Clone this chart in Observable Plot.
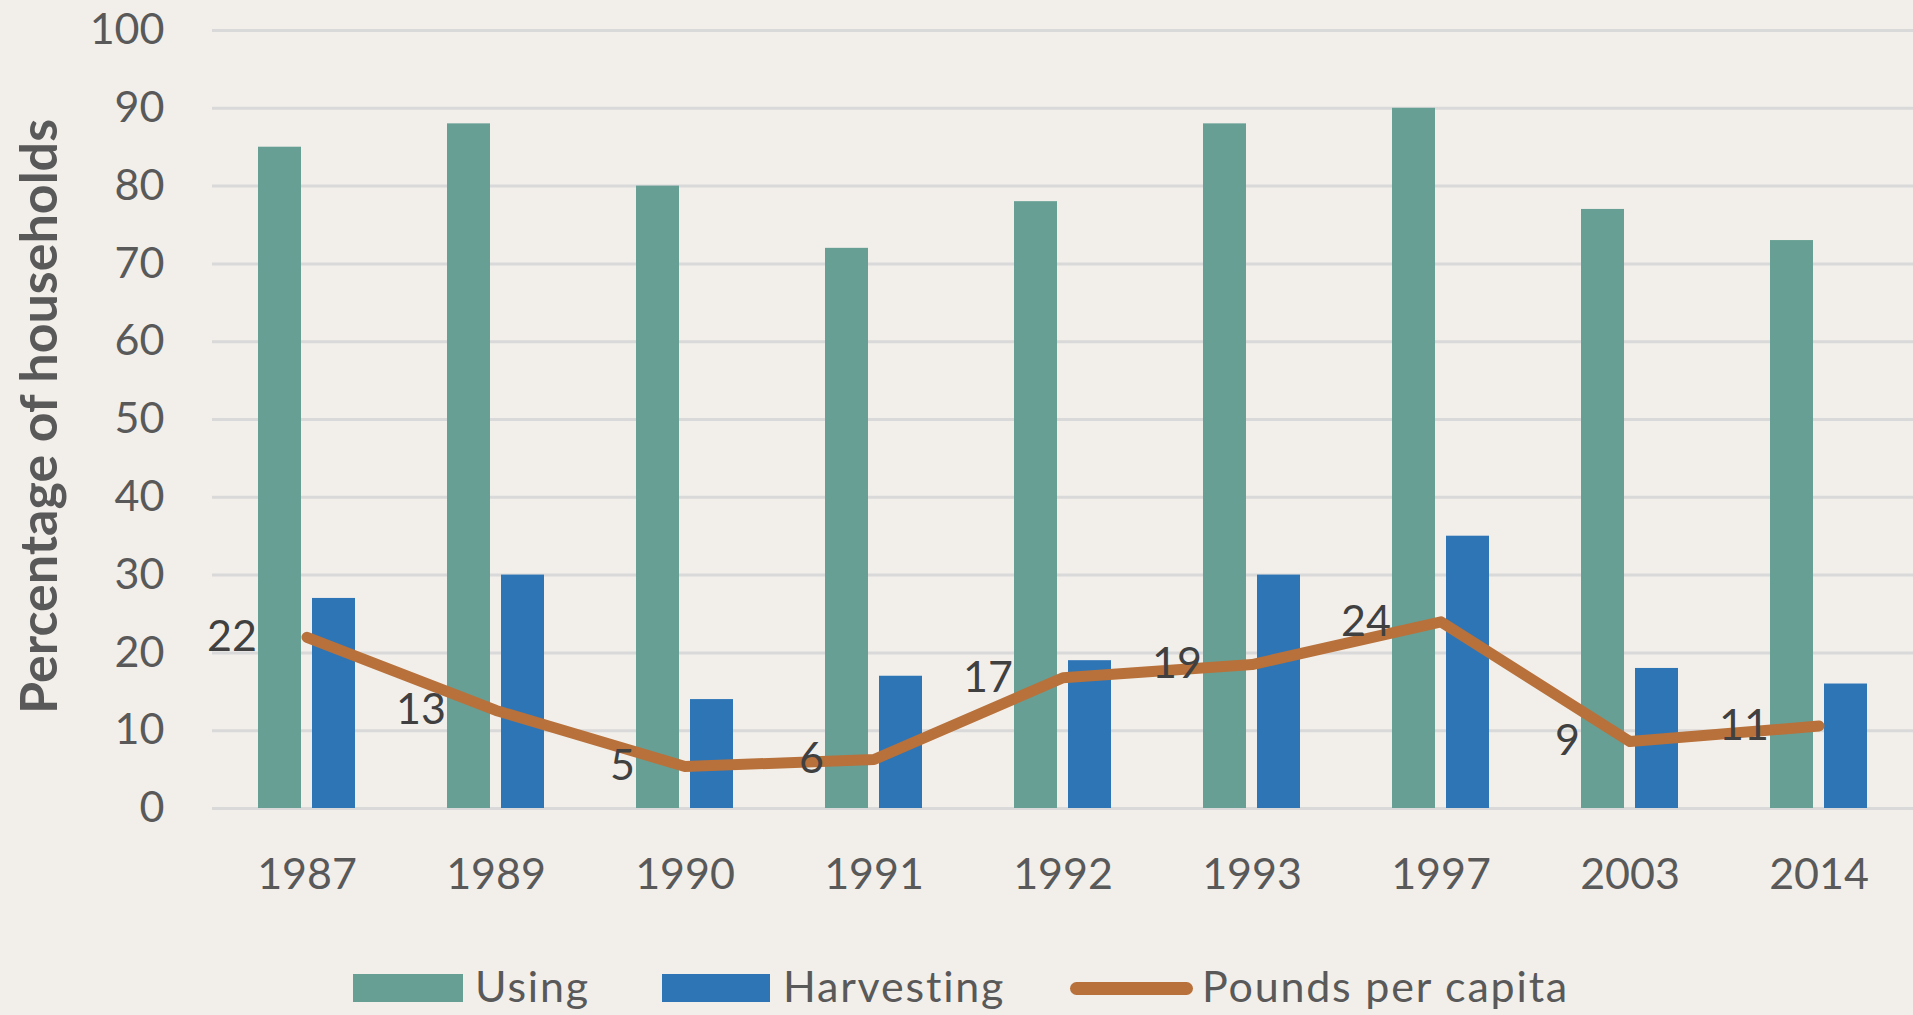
<!DOCTYPE html>
<html>
<head>
<meta charset="utf-8">
<script src="https://cdn.jsdelivr.net/npm/d3@7"></script>
<script src="https://cdn.jsdelivr.net/npm/@observablehq/plot@0.6"></script>
<style>
  html, body { margin: 0; padding: 0; background: #F2EFEB; overflow: hidden; }
  #chart svg { display: block; }
  #legend { position: relative; height: 55px; font-family: Lato, "Open Sans", sans-serif; font-size: 43px; color: #595959; }
  #legend .sw { position: absolute; }
  #legend .lt { position: absolute; top: -2px; line-height: 55px; white-space: nowrap; letter-spacing: 1.8px; }
</style>
</head>
<body>
<div id="chart"></div>
<div id="legend"></div>
<script>
// ---- data ----
const years = ["1987", "1989", "1990", "1991", "1992", "1993", "1997", "2003", "2014"];
const using = [85, 88, 80, 72, 78, 88, 90, 77, 73];
const harvesting = [27, 30, 14, 17, 19, 30, 35, 18, 16];
const poundsPerCapita = [22, 12.6, 5.4, 6.3, 16.8, 18.5, 24, 8.6, 10.6];
const yTicks = [0, 10, 20, 30, 40, 50, 60, 70, 80, 90, 100];
const seriesNames = ["Using", "Harvesting", "Pounds per capita"];
const yTitle = "Percentage of households";

// ---- styles ----
const colors = ["#679F95", "#2E75B6", "#B8713A"];

const rows = years.map((y, i) => ({
  year: y, using: using[i], harvesting: harvesting[i], pounds: poundsPerCapita[i]
}));

const chart = Plot.plot({
  width: 1913,
  height: 960,
  marginLeft: 212,
  marginRight: 0,
  marginTop: 30,
  marginBottom: 152,
  style: { background: "transparent", fontFamily: "Lato, 'Open Sans', sans-serif", fontSize: "43px", color: "#595959", overflow: "visible" },
  x: { type: "band", domain: years, padding: 0, label: null },
  y: { domain: [0, 100], label: null },
  marks: [
    Plot.ruleY(yTicks, { stroke: "#D9D9D9", strokeWidth: 3 }),
    Plot.barY(rows, { x: "year", y: "using", fill: colors[0], insetLeft: 73, insetRight: 73, dx: -27 }),
    Plot.barY(rows, { x: "year", y: "harvesting", fill: colors[1], insetLeft: 73, insetRight: 73, dx: 27 }),
    Plot.line(rows, { x: "year", y: "pounds", stroke: colors[2], strokeWidth: 11, strokeLinecap: "round", strokeLinejoin: "round" }),
    Plot.text(rows, { x: "year", y: "pounds", text: d => String(Math.round(d.pounds)), textAnchor: "end", dx: -50, fill: "#404040", fontSize: 43 }),
    Plot.axisX({ tickSize: 0, tickPadding: 50, fill: "#595959", fontSize: 43, label: null }),
    Plot.axisY({ ticks: yTicks, tickSize: 0, tickPadding: 48, fill: "#595959", fontSize: 43, label: null }),
    Plot.text([yTitle], { text: d => d, frameAnchor: "left", textAnchor: "middle", rotate: -90, dx: -172, dy: -3, fontWeight: "bold", fontSize: 52, fill: "#595959" })
  ]
});
document.getElementById("chart").appendChild(chart);

// ---- legend ----
const legend = document.getElementById("legend");
const legendLayout = [
  { sw: { left: 353, top: 14, width: 110, height: 28, radius: 0 }, text: 475 },
  { sw: { left: 662, top: 14, width: 108, height: 28, radius: 0 }, text: 783 },
  { sw: { left: 1070, top: 22, width: 123, height: 13, radius: 7 }, text: 1202 }
];
seriesNames.forEach((name, i) => {
  const L = legendLayout[i];
  const s = document.createElement("div");
  s.className = "sw";
  Object.assign(s.style, {
    left: L.sw.left + "px", top: L.sw.top + "px", width: L.sw.width + "px", height: L.sw.height + "px",
    background: colors[i], borderRadius: L.sw.radius + "px"
  });
  legend.appendChild(s);
  const t = document.createElement("div");
  t.className = "lt";
  t.style.left = L.text + "px";
  t.textContent = name;
  legend.appendChild(t);
});
</script>
</body>
</html>
